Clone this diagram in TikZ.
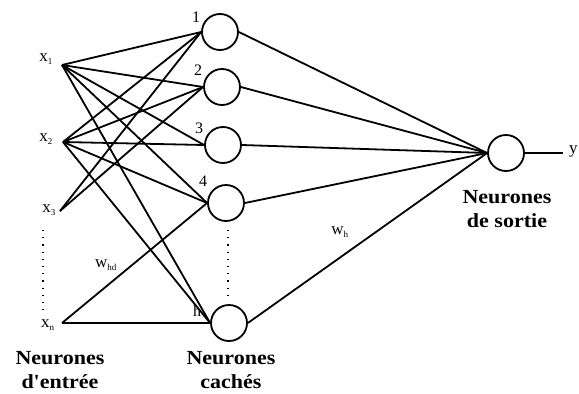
\documentclass[tikz,border=0pt]{standalone}
\usepackage{fontspec}
\setmainfont{Liberation Serif}
\newfontfamily\lblfont[FakeStretch=1.1]{Liberation Serif}
\begin{document}
\begin{tikzpicture}[x=1pt,y=-1pt,
  neuron/.style={draw,circle,line width=1.8pt,minimum size=36pt,inner sep=0pt},
  conn/.style={line width=1.8pt},
  idx/.style={font=\fontsize{16}{16}\selectfont,inner sep=0pt},
  xlab/.style={font=\fontsize{17}{17}\selectfont,inner sep=0pt},
  grp/.style={font=\lblfont\bfseries\fontsize{20}{24}\selectfont,align=center,inner sep=0pt},
  dotline/.style={line width=1.8pt,dash pattern=on 1.2pt off 6pt}]
\useasboundingbox (0,0) rectangle (579,394);
% input points
\coordinate (i1) at (62,65);
\coordinate (i2) at (63,142);
\coordinate (i3) at (60,211);
\coordinate (in) at (62,323);
\node[xlab] (lx1) at (46,59) {x\textsubscript{\fontsize{9}{9}\selectfont 1}};
\node[xlab] (lx2) at (46,139) {x\textsubscript{\fontsize{9}{9}\selectfont 2}};
\node[xlab] (lx3) at (49,210) {x\textsubscript{\fontsize{9}{9}\selectfont 3}};
\node[xlab] (lxn) at (48,325) {x\textsubscript{\fontsize{9}{9}\selectfont n}};
% hidden
\node[neuron] (h1) at (220,32) {};
\node[neuron] (h2) at (222,87) {};
\node[neuron] (h3) at (223,145) {};
\node[neuron] (h4) at (226,203) {};
\node[neuron] (hh) at (229,323) {};
\node[idx] (n1) at (196,17) {1};
\node[idx] (n2) at (198,70) {2};
\node[idx] (n3) at (199,128) {3};
\node[idx] (n4) at (203,181) {4};
\node[idx] (nh) at (197,311) {h};
% output
\node[neuron] (o) at (506,153) {};
\coordinate (yend) at (563,153);
\node[xlab,anchor=west] (ly) at (569,151) {y};
% connections input -> hidden
\foreach \h in {h1,h2,h3,h4,hh}{
  \draw[conn] (i1) -- (\h.west);
  \draw[conn] (i2) -- (\h.west);
}
\draw[conn] (i3) -- (h1.west);
\draw[conn] (i3) -- (h2.west);
\draw[conn] (in) -- (h4.west);
\draw[conn] (in) -- (hh.west);
% hidden -> output
\foreach \h in {h1,h2,h3,h4,hh}{
  \draw[conn] (\h.east) -- (o.west);
}
\draw[conn] (o.east) -- (yend);
% dotted
\coordinate (d1a) at (43,230);
\coordinate (d1b) at (43,312);
\draw[dotline] (d1a) -- (d1b);
\coordinate (d2a) at (228,230);
\coordinate (d2b) at (228,296);
\draw[dotline] (d2a) -- (d2b);
% weights
\node[xlab] (whd) at (106,265) {w\textsubscript{\fontsize{9}{9}\selectfont hd}};
\node[xlab] (wh) at (340,232) {w\textsubscript{\fontsize{9}{9}\selectfont h}};
% group labels
\node[grp] (gin) at (60,370) {Neurones\\d'entrée};
\node[grp] (ghid) at (231,370) {Neurones\\cachés};
\node[grp] (gout) at (507,209) {Neurones\\de sortie};
\end{tikzpicture}
\end{document}
